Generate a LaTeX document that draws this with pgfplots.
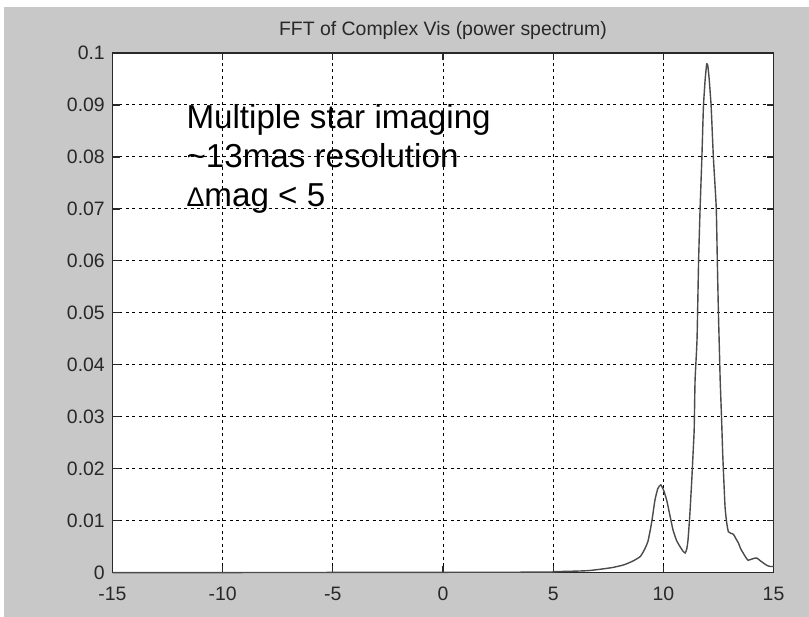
\documentclass[border=0pt]{standalone}
\usepackage{fontspec}
\setmainfont{Liberation Sans}
\usepackage{pgfplots}
\pgfplotsset{compat=1.18}
\definecolor{figgray}{RGB}{200,200,200}
\definecolor{axcol}{RGB}{40,40,40}
\definecolor{curvecol}{RGB}{75,75,75}
\begin{document}
\begin{tikzpicture}
\fill[white] (0,0) rectangle (809bp,617bp);
\fill[figgray] (4bp,0) rectangle (809bp,610bp);
\begin{axis}[
  at={(112.5bp,44.3bp)}, anchor=south west,
  scale only axis, width=661bp, height=519.7bp,
  xmin=-15, xmax=15, ymin=0, ymax=0.1,
  axis background/.style={fill=white},
  axis line style={axcol, line width=1.3bp},
  xtick={-15,-10,-5,0,5,10,15},
  xticklabels={-15,-10,-5,0,5,10,15},
  ytick={0,0.01,0.02,0.03,0.04,0.05,0.06,0.07,0.08,0.09,0.1},
  yticklabels={0,0.01,0.02,0.03,0.04,0.05,0.06,0.07,0.08,0.09,0.1},
  scaled y ticks=false,
  tick align=inside, major tick length=7bp,
  tick style={axcol, line width=1.2bp},
  ticklabel style={font=\fontsize{19.5}{21}\selectfont, text=axcol, inner sep=1bp},
  /pgf/number format/assume math mode=true,
  xticklabel style={yshift=-13bp},
  yticklabel style={xshift=-6.5bp},
  grid=major,
  major grid style={black, line width=1bp, dash pattern=on 3bp off 3.5bp},
  title={FFT of Complex Vis (power spectrum)},
  title style={font=\fontsize{19.5}{21}\selectfont, text=axcol, at={(0.5,1)}, anchor=base, yshift=11.5bp},
  clip=false,
]
\addplot[curvecol, line width=1.4bp, smooth, tension=0.3] coordinates {
(-15,0) (4,0.0001) (5,0.0002) (6,0.0003) (6.6,0.0004) (7.2,0.0007) (7.7,0.001)
(8.2,0.0015) (8.6,0.0022) (8.95,0.0031) (9.15,0.0045) (9.3,0.0060) (9.42,0.0085)
(9.5,0.0105) (9.62,0.014) (9.75,0.0162) (9.88,0.0169) (10.0,0.0160) (10.15,0.014)
(10.3,0.011) (10.44,0.0082) (10.6,0.0062) (10.76,0.005) (10.9,0.0041) (10.99,0.0038)
(11.06,0.0045) (11.12,0.0063) (11.2,0.011) (11.29,0.0178) (11.35,0.0230) (11.40,0.0276)
(11.44,0.037) (11.53,0.045) (11.6,0.06) (11.67,0.0703) (11.75,0.080) (11.82,0.0897)
(11.9,0.095) (11.97,0.0979) (12.02,0.0975) (12.08,0.095) (12.17,0.0897) (12.27,0.080)
(12.40,0.0703) (12.45,0.06) (12.5,0.05) (12.55,0.042) (12.58,0.037) (12.64,0.030)
(12.70,0.0223) (12.80,0.0127) (12.88,0.0095) (12.95,0.0079) (13.05,0.0076) (13.18,0.0074)
(13.3,0.0065) (13.41,0.0057) (13.5,0.0047) (13.62,0.0038) (13.75,0.0029) (13.85,0.0024)
(14.0,0.0026) (14.15,0.0028) (14.25,0.0028) (14.4,0.0023) (14.53,0.0019) (14.7,0.0014)
(14.85,0.0012) (15,0.0012)
};
\node[anchor=base west, font=\fontsize{33.3}{36}\selectfont, inner sep=0pt] at (axis cs:-11.65,0.0854) {Multiple star imaging};
\node[anchor=base west, font=\fontsize{33.3}{36}\selectfont, inner sep=0pt] at (axis cs:-11.65,0.0779) {\char"7E 13mas resolution};
\node[anchor=base west, font=\fontsize{33.3}{36}\selectfont, inner sep=0pt] at (axis cs:-11.65,0.0704) {{\fontsize{27}{30}\selectfont Δ}mag < 5};
\end{axis}
\end{tikzpicture}
\end{document}
